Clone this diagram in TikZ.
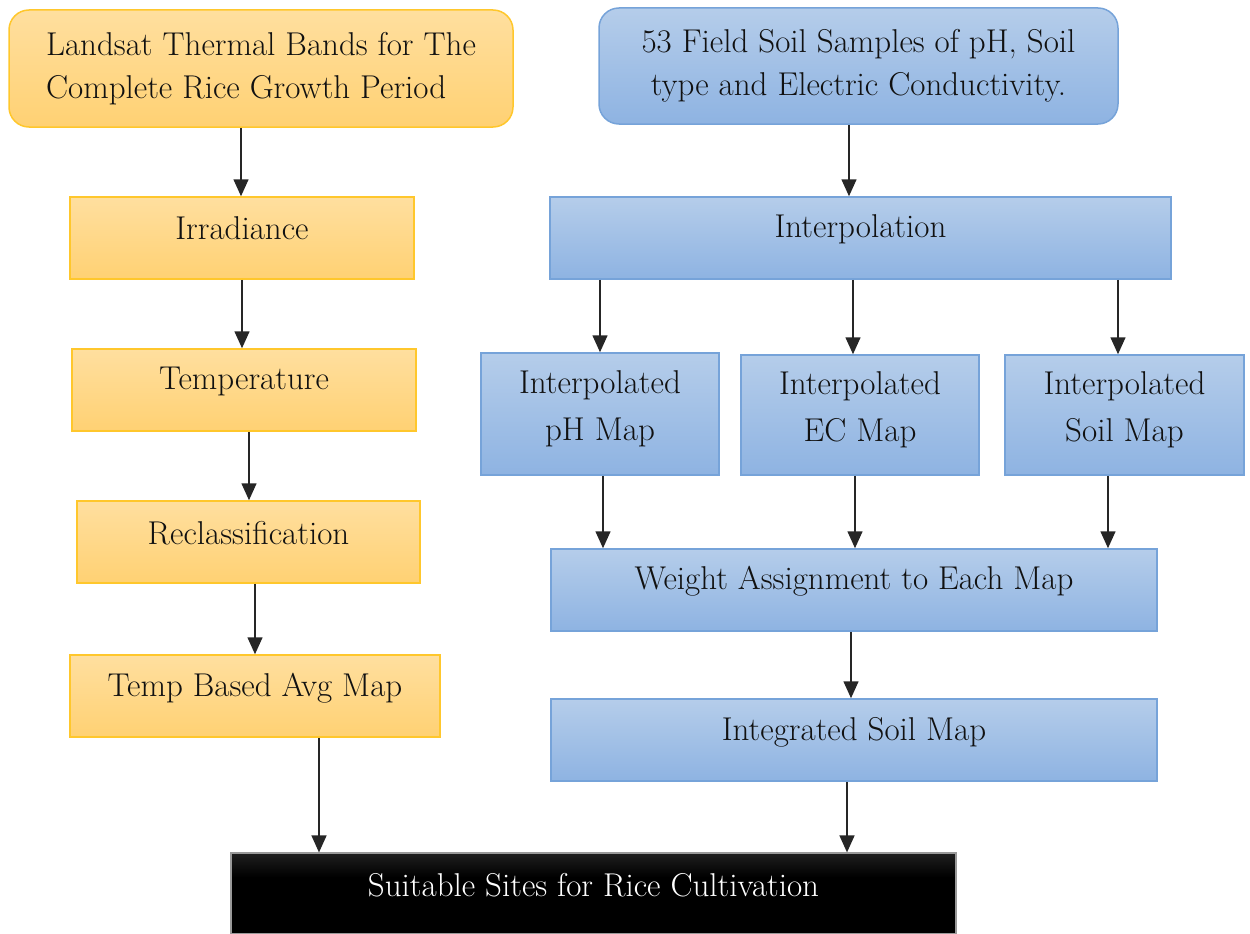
\documentclass[tikz,border=0pt]{standalone}
\usetikzlibrary{arrows.meta}
\definecolor{orTop}{HTML}{FFDF9F}
\definecolor{orBot}{HTML}{FFD173}
\definecolor{orLine}{HTML}{FFC72C}
\definecolor{blTop}{HTML}{B5CDEA}
\definecolor{blBot}{HTML}{8EB3E2}
\definecolor{blLine}{HTML}{76A3D9}
\definecolor{txtc}{HTML}{111111}
\pgfdeclareverticalshading{blackgrad}{100bp}{color(0bp)=(black); color(60bp)=(black); color(100bp)=(black!68!white)}
\tikzset{
  txt/.style={font=\fontsize{33}{43}\selectfont, text=txtc},
  obox/.style={rectangle, draw=orLine, line width=1.5pt, top color=orTop, bottom color=orBot, inner sep=0pt},
  bbox/.style={rectangle, draw=blLine, line width=1.5pt, top color=blTop, bottom color=blBot, inner sep=0pt},
  arr/.style={line width=1.5pt, draw=black!85, -{Triangle[width=15pt,length=17pt]}},
}
\begin{document}
\begin{tikzpicture}[x=1pt,y=-1pt]
\useasboundingbox (0,0) rectangle (1250,934);

% left column
\node[obox, rounded corners=20pt, minimum width=504pt, minimum height=117pt, txt, align=left] (land) at (261,68.5)
  {Landsat Thermal Bands for The\\Complete Rice Growth Period};
\node[obox, minimum width=344pt, minimum height=82pt, label={[txt, yshift=10pt]center:Irradiance}] (irr) at (242,238) {};
\node[obox, minimum width=344pt, minimum height=82pt, label={[txt, yshift=9pt]center:Temperature}] (temp) at (244,390) {};
\node[obox, minimum width=343pt, minimum height=82pt, label={[txt, yshift=9pt]center:Reclassification}] (recl) at (248.5,542) {};
\node[obox, minimum width=370pt, minimum height=82pt, label={[txt, yshift=8pt]center:Temp Based Avg Map}] (tavg) at (255,696) {};

% right column
\node[bbox, rounded corners=20pt, minimum width=519pt, minimum height=116pt, txt, align=center] (field) at (858.5,66)
  {53 Field Soil Samples of pH, Soil\\type and Electric Conductivity.};
\node[bbox, minimum width=621pt, minimum height=82pt, label={[txt, yshift=9pt]center:Interpolation}] (interp) at (860.5,238) {};
\node[bbox, minimum width=238pt, minimum height=122pt, label={[txt, font=\fontsize{33}{47}\selectfont, align=center, yshift=5pt]center:{Interpolated\\pH Map}}] (ph) at (600,414) {};
\node[bbox, minimum width=238pt, minimum height=120pt, label={[txt, font=\fontsize{33}{47}\selectfont, align=center, yshift=5pt]center:{Interpolated\\EC Map}}] (ec) at (860,415) {};
\node[bbox, minimum width=239pt, minimum height=120pt, label={[txt, font=\fontsize{33}{47}\selectfont, align=center, yshift=5pt]center:{Interpolated\\Soil Map}}] (soil) at (1124.5,415) {};
\node[bbox, minimum width=606pt, minimum height=82pt, label={[txt, yshift=9pt]center:Weight Assignment to Each Map}] (weight) at (854,590) {};
\node[bbox, minimum width=606pt, minimum height=82pt, label={[txt, yshift=8pt]center:Integrated Soil Map}] (integ) at (854,740) {};

% bottom
\node[rectangle, shading=blackgrad, draw=black!40, line width=1.2pt, inner sep=0pt, minimum width=725pt, minimum height=81pt,
  label={[txt, text=white, yshift=8pt]center:Suitable Sites for Rice Cultivation}] (suit) at (593.5,893.5) {};

% connectors left
\draw[arr] (land.south -| 241,0) -- (irr.north -| 241,0);
\draw[arr] (irr.south -| 242,0) -- (temp.north -| 242,0);
\draw[arr] (temp.south -| 249,0) -- (recl.north -| 249,0);
\draw[arr] (recl.south -| 255,0) -- (tavg.north -| 255,0);
\draw[arr] (tavg.south -| 319,0) -- (suit.north -| 319,0);

% connectors right
\draw[arr] (field.south -| 849,0) -- (interp.north -| 849,0);
\draw[arr] (interp.south -| 600,0) -- (ph.north -| 600,0);
\draw[arr] (interp.south -| 853,0) -- (ec.north -| 853,0);
\draw[arr] (interp.south -| 1118,0) -- (soil.north -| 1118,0);
\draw[arr] (ph.south -| 603,0) -- (weight.north -| 603,0);
\draw[arr] (ec.south -| 855,0) -- (weight.north -| 855,0);
\draw[arr] (soil.south -| 1108,0) -- (weight.north -| 1108,0);
\draw[arr] (weight.south -| 851,0) -- (integ.north -| 851,0);
\draw[arr] (integ.south -| 847,0) -- (suit.north -| 847,0);
\end{tikzpicture}
\end{document}
